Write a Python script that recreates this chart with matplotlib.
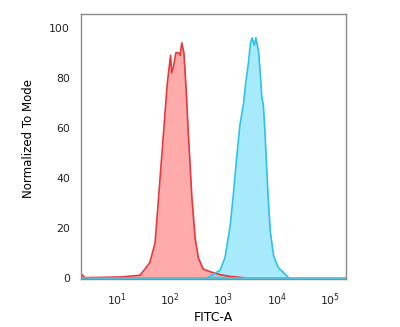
import numpy as np
import matplotlib
matplotlib.use('Agg')
import matplotlib.pyplot as plt

# histogram outlines: log10(FITC-A) and % of mode
red_log = [0.33, 0.36, 0.40, 1.10, 1.44, 1.62, 1.72, 1.81, 1.91, 1.95, 2.01, 2.03, 2.06,
           2.11, 2.16, 2.19, 2.22, 2.26, 2.30, 2.34, 2.41, 2.47, 2.53, 2.62,
           2.75, 2.94, 3.13, 3.37]
red_val = [1.5, 1.0, 0.0, 0.3, 1.0, 6, 14, 39, 67, 78, 89, 82, 84,
           90, 90, 89, 94, 90, 76, 59, 32, 16, 8, 3.5,
           2.4, 1.2, 0.5, 0.0]

blue_log = [2.71, 2.94, 3.03, 3.13, 3.19, 3.25, 3.31, 3.38, 3.42, 3.47, 3.51, 3.54,
            3.58, 3.61, 3.66, 3.69, 3.72, 3.75, 3.78, 3.81, 3.84, 3.88, 3.94,
            4.03, 4.13, 4.22]
blue_val = [0.0, 3, 8, 21, 34, 48, 61, 70, 78, 86, 94, 96,
            93, 96, 90.5, 82.5, 72.5, 69, 58.5, 45, 32, 18.5, 9,
            4, 2, 0.0]

x_range = (10 ** 0.33, 10 ** 5.30)
x_ticks = [1, 2, 3, 4, 5]
y_ticks = [0, 20, 40, 60, 80, 100]

RED_LINE = '#e8383d'
RED_FILL = '#ff9c9c'
BLUE_LINE = '#2cc3e6'
BLUE_FILL = '#6ddcfa'

fig = plt.figure(figsize=(4.0, 3.27), dpi=100)
ax = fig.add_axes([0.2025, 0.147, 0.6625, 0.81])

rx = np.power(10.0, red_log)
bx = np.power(10.0, blue_log)

ax.fill_between(rx, 0, red_val, color=RED_FILL, alpha=0.85, linewidth=0)
ax.plot(rx, red_val, color=RED_LINE, linewidth=1.2)
ax.fill_between(bx, 0, blue_val, color=BLUE_FILL, alpha=0.6, linewidth=0)
ax.plot(bx, blue_val, color=BLUE_LINE, linewidth=1.2)
ax.axhline(0, color=BLUE_LINE, linewidth=1.2)

ax.set_xscale('log')
ax.set_xlim(*x_range)
ax.set_ylim(-0.5, 105.5)
ax.set_xticks([10.0 ** k for k in x_ticks])
ax.set_xticklabels([r'$10^{%d}$' % k for k in x_ticks])
ax.xaxis.set_minor_locator(matplotlib.ticker.NullLocator())
ax.set_yticks(y_ticks)
ax.tick_params(length=0, labelsize=7.8, colors='#222222')
ax.tick_params(axis='x', pad=9)
ax.tick_params(axis='y', pad=8)

for s in ax.spines.values():
    s.set_color('#8c8c8c')
    s.set_linewidth(1.0)

ax.set_xlabel('FITC-A', fontsize=9, labelpad=2)
ax.set_ylabel('Normalized To Mode', fontsize=8.5)
ax.yaxis.set_label_coords(-0.174, 0.532)

fig.savefig('out.png', dpi=100)
